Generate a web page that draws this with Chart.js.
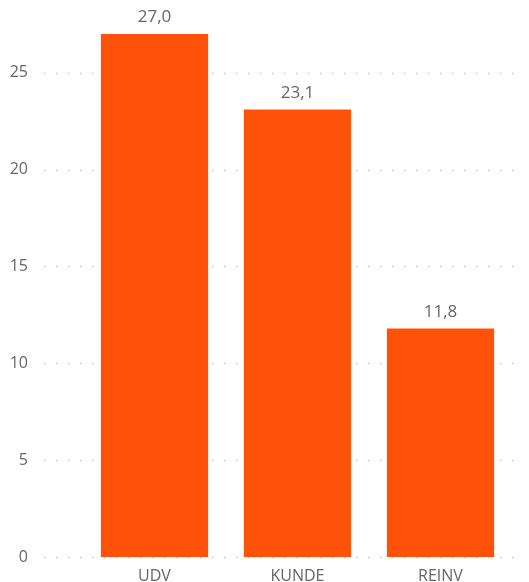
<!DOCTYPE html>
<html>
<head>
<meta charset="utf-8">
<script src="https://cdn.jsdelivr.net/npm/chart.js@4"></script>
<style>
  html, body { margin: 0; padding: 0; background: #fff; overflow: hidden; }
  canvas { display: block; }
</style>
</head>
<body>
<canvas id="myChart" width="529" height="582"></canvas>
<script>
const categories = ["UDV", "KUNDE", "REINV"];
const values = [27.0, 23.1, 11.8];
const yTicks = [0, 5, 10, 15, 20, 25];

const barColor = "#FE520A";
const textColor = "#666666";

// dotted gridlines that run past the bars, like the original
const dottedGrid = {
  id: "dottedGrid",
  beforeDatasetsDraw(chart) {
    const ctx = chart.ctx;
    const y = chart.scales.y;
    ctx.save();
    ctx.strokeStyle = "#c8c8c8";
    ctx.lineWidth = 1.5;
    ctx.setLineDash([1.5, 10.5]);
    yTicks.forEach((t) => {
      const py = Math.round(y.getPixelForValue(t)) + 0.5;
      ctx.beginPath();
      ctx.moveTo(44, py);
      ctx.lineTo(524, py);
      ctx.stroke();
    });
    ctx.restore();
  },
};

// value labels above the bars
const valueLabels = {
  id: "valueLabels",
  afterDatasetsDraw(chart) {
    const ctx = chart.ctx;
    const meta = chart.getDatasetMeta(0);
    ctx.save();
    ctx.fillStyle = textColor;
    ctx.font = "17px 'Open Sans'";
    ctx.textAlign = "center";
    ctx.textBaseline = "bottom";
    meta.data.forEach((bar, i) => {
      ctx.fillText(values[i].toFixed(1).replace(".", ","), bar.x, bar.y - 8);
    });
    ctx.restore();
  },
};

const data = {
  labels: categories,
  datasets: [
    {
      data: values,
      backgroundColor: barColor,
      borderWidth: 0,
      barPercentage: 0.75,
      categoryPercentage: 1,
    },
  ],
};

const config = {
  type: "bar",
  data: data,
  options: {
    responsive: false,
    animation: false,
    layout: { padding: { top: 34, right: 17, left: 0, bottom: 0 } },
    plugins: {
      legend: { display: false },
      tooltip: { enabled: false },
    },
    scales: {
      x: {
        offset: true,
        grid: { display: false },
        border: { display: false },
        ticks: {
          color: textColor,
          font: { family: "Open Sans", size: 16 },
          padding: 2,
        },
        afterFit: (s) => {
          s.height = 25;
          s.paddingLeft = 0;
          s.paddingRight = 0;
        },
      },
      y: {
        min: 0,
        max: 27,
        grid: { display: false },
        border: { display: false },
        afterBuildTicks: (s) => {
          s.ticks = yTicks.map((v) => ({ value: v }));
        },
        afterFit: (s) => {
          s.width = 83;
          s.paddingTop = 0;
          s.paddingBottom = 0;
        },
        ticks: {
          color: textColor,
          font: { family: "Open Sans", size: 16 },
          padding: 47,
        },
      },
    },
  },
  plugins: [dottedGrid, valueLabels],
};

const chart = new Chart(document.getElementById("myChart"), config);
</script>
</body>
</html>
